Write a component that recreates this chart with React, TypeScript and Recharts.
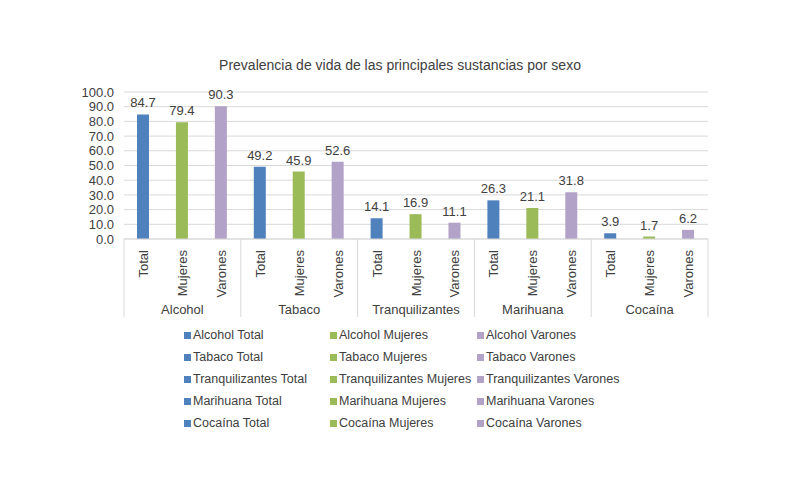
import { Bar, BarChart, CartesianGrid, Cell, LabelList, XAxis, YAxis } from "recharts";

const substances = ["Alcohol", "Tabaco", "Tranquilizantes", "Marihuana", "Cocaína"];
const sexes = ["Total", "Mujeres", "Varones"];
const totalValues = [84.7, 49.2, 14.1, 26.3, 3.9];
const mujeresValues = [79.4, 45.9, 16.9, 21.1, 1.7];
const varonesValues = [90.3, 52.6, 11.1, 31.8, 6.2];
const yTicks = [0, 10, 20, 30, 40, 50, 60, 70, 80, 90, 100];

const SEX_COLORS = ["#4F81BD", "#9BBB59", "#B3A2C7"];
const TEXT = "#404040";
const GRID = "#d9d9d9";
const FONT = "'Liberation Sans', Arial, sans-serif";

const seriesValues = [totalValues, mujeresValues, varonesValues];

const rows = substances.flatMap((substance, i) =>
  sexes.map((sex, j) => ({
    key: `${substance} ${sex}`,
    substance,
    sex,
    sexIndex: j,
    value: seriesValues[j][i],
  }))
);

function CategoryTick(props: any) {
  const { x, y, index, payload } = props;
  const row = rows[index];
  if (!row) return null;
  const half = payload && payload.offset ? payload.offset : 19.5;
  return (
    <g>
      <text
        x={x}
        y={y + 11}
        transform={`rotate(-90, ${x}, ${y + 11})`}
        textAnchor="end"
        dominantBaseline="central"
        fill={TEXT}
        fontSize={13}
        fontFamily={FONT}
      >
        {row.sex}
      </text>
      {row.sexIndex === 1 && (
        <text x={x} y={y + 70} textAnchor="middle" dominantBaseline="central" fill={TEXT} fontSize={13} fontFamily={FONT}>
          {row.substance}
        </text>
      )}
      {row.sexIndex === 0 && <line x1={x - half} x2={x - half} y1={y} y2={y + 78} stroke={GRID} />}
      {index === rows.length - 1 && <line x1={x + half} x2={x + half} y1={y} y2={y + 78} stroke={GRID} />}
    </g>
  );
}

export default function App() {
  return (
    <div style={{ position: "absolute", left: 0, top: 0, width: 800, height: 489, background: "#fff", fontFamily: FONT }}>
      <div style={{ position: "absolute", top: 57, width: 800, textAlign: "center", fontSize: 14, color: TEXT }}>
        Prevalencia de vida de las principales sustancias por sexo
      </div>
      <BarChart width={800} height={489} data={rows} margin={{ top: 92, right: 92, bottom: 170, left: 74 }}>
        <CartesianGrid vertical={false} stroke={GRID} />
        <XAxis
          dataKey="key"
          interval={0}
          height={80}
          tickSize={0}
          tickMargin={0}
          tickLine={false}
          axisLine={{ stroke: GRID }}
          tick={<CategoryTick />}
        />
        <YAxis
          width={50}
          domain={[0, 100]}
          ticks={yTicks}
          interval={0}
          tickFormatter={(v: number) => v.toFixed(1)}
          axisLine={false}
          tickLine={false}
          tickMargin={4}
          tick={{ fill: TEXT, fontSize: 13, fontFamily: FONT }}
        />
        <Bar dataKey="value" barSize={12} isAnimationActive={false}>
          {rows.map((r) => (
            <Cell key={r.key} fill={SEX_COLORS[r.sexIndex]} />
          ))}
          <LabelList
            dataKey="value"
            position="top"
            offset={7}
            formatter={(v: any) => Number(v).toFixed(1)}
            style={{ fill: TEXT, fontSize: 13, fontFamily: FONT }}
          />
        </Bar>
      </BarChart>
      <div
        style={{
          position: "absolute",
          left: 184,
          top: 326,
          display: "grid",
          gridTemplateColumns: "146px 147px 160px",
          rowGap: 4,
          fontSize: 12.5,
          color: TEXT,
        }}
      >
        {substances.flatMap((substance) =>
          sexes.map((sex, j) => (
            <div key={`${substance} ${sex}`} style={{ display: "flex", alignItems: "center", height: 18, whiteSpace: "nowrap" }}>
              <span style={{ width: 7, height: 7, background: SEX_COLORS[j], marginRight: 2, display: "inline-block" }} />
              {`${substance} ${sex}`}
            </div>
          ))
        )}
      </div>
    </div>
  );
}
